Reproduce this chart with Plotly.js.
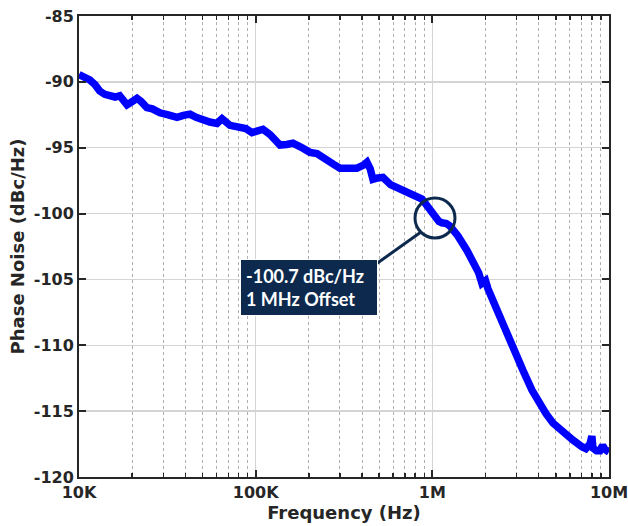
<!DOCTYPE html>
<html>
<head>
<meta charset="utf-8">
<script src="https://cdn.plot.ly/plotly-3.0.1.min.js"></script>
<style>html,body{margin:0;padding:0;background:#fff;}#chart{width:628px;height:526px;}</style>
</head>
<body>
<div id="chart"></div>
<script>
// Offset frequency (Hz)
const freqHz = [
  10000, 10800, 11500, 12300, 13100, 14000, 15000, 16000, 17000, 18000,
  18700, 19500, 21300, 22500, 24200, 26000, 28700, 32000, 35900, 39000,
  42500, 46000, 50300, 55000, 60400, 64500, 71500, 81500, 88000, 95300,
  103000, 110000, 120500, 128000, 137300, 150000, 162600, 180000, 202900, 222300,
  240000, 253200, 275000, 300000, 335000, 374400, 410000, 426500, 445000, 461200,
  490000, 525400, 580000, 630500, 718100, 800000, 873400, 920000, 969200, 1034000,
  1090000, 1133000, 1200000, 1258000, 1396000, 1570000, 1742000, 1830000, 1909000, 2000000,
  2064000, 2203000, 2351000, 2644000, 2935000, 3256000, 3662000, 4064000, 4400000, 4815000,
  5484000, 6247000, 7025000, 7400000, 7800000, 8000000, 8110000, 8500000, 8882000, 9200000,
  9480000, 10000000
];
// Phase noise (dBc/Hz)
const phaseNoise = [
  -89.45, -89.6, -89.85, -90.2, -90.7, -90.95, -91.1, -91.15, -91.05, -91.4,
  -91.75, -91.6, -91.25, -91.5, -91.95, -92.05, -92.35, -92.5, -92.7, -92.55,
  -92.45, -92.7, -92.95, -93.05, -93.15, -92.8, -93.3, -93.45, -93.55, -93.85,
  -93.75, -93.6, -94.0, -94.3, -94.8, -94.75, -94.65, -94.95, -95.35, -95.45,
  -95.8, -95.95, -96.25, -96.55, -96.6, -96.55, -96.3, -96.1, -96.6, -97.4,
  -97.3, -97.25, -97.8, -98.05, -98.3, -98.75, -98.9, -99.3, -99.75, -100.3,
  -100.6, -100.7, -100.75, -100.95, -101.7, -102.8, -103.8, -104.5, -105.3, -105.1,
  -105.7, -106.6, -107.7, -109.1, -110.4, -111.9, -113.4, -114.6, -115.2, -115.9,
  -116.6, -117.2, -117.7, -117.85, -117.5, -116.9, -117.8, -118.0, -118.0, -117.6,
  -117.9, -118.1
];

const xTickVals = [1e4, 1e5, 1e6, 1e7];
const xTickText = ["10K", "100K", "1M", "10M"];
const yTickVals = [-120, -115, -110, -105, -100, -95, -90, -85];
const yTickText = ["-120", "-115", "-110", "-105", "-100", "-95", "-90", "-85"];
const minorMultipliers = [2, 3, 4, 5, 6, 7, 8, 9];
const decades = [1e4, 1e5, 1e6];

const annotationLines = ["-100.7 dBc/Hz", "1 MHz Offset"];

const minorVals = [];
decades.forEach(d => minorMultipliers.forEach(m => minorVals.push(d * m)));

const bold = s => "<b>" + s + "</b>";

const tickFont = {family: "DejaVu Sans", size: 16, color: "#262626"};
const titleFont = {family: "DejaVu Sans", size: 18, color: "#262626"};

const trace = {
  x: freqHz,
  y: phaseNoise,
  type: "scatter",
  mode: "lines",
  line: {color: "#0000ff", width: 7.5, shape: "linear"},
  hoverinfo: "skip"
};

const navy = "#0d2a4e";

const layout = {
  width: 628,
  height: 526,
  margin: {l: 79, r: 19, t: 16, b: 49},
  paper_bgcolor: "#ffffff",
  plot_bgcolor: "#ffffff",
  showlegend: false,
  xaxis: {
    type: "log",
    range: [4, 7],
    tickmode: "array",
    tickvals: xTickVals,
    ticktext: xTickText.map(bold),
    ticks: "inside",
    ticklen: 7,
    tickwidth: 2,
    tickcolor: "#262626",
    showline: true,
    linecolor: "#262626",
    linewidth: 2,
    mirror: "allticks",
    showgrid: true,
    gridcolor: "#d4d4d4",
    gridwidth: 1.5,
    zeroline: false,
    tickfont: tickFont,
    ticklabelstandoff: 0,
    ticklabeloverflow: "allow",
    title: {text: bold("Frequency (Hz)"), font: titleFont, standoff: 2},
    minor: {
      tickmode: "array",
      tickvals: minorVals,
      ticks: "inside",
      ticklen: 4,
      tickwidth: 1.5,
      tickcolor: "#262626",
      showgrid: true,
      gridcolor: "#b0b0b0",
      gridwidth: 1,
      griddash: "dot"
    }
  },
  yaxis: {
    range: [-120, -85],
    tickmode: "array",
    tickvals: yTickVals,
    ticktext: yTickText.map(bold),
    ticks: "inside",
    ticklen: 7,
    tickwidth: 2,
    tickcolor: "#262626",
    showline: true,
    linecolor: "#262626",
    linewidth: 2,
    mirror: "allticks",
    showgrid: true,
    gridcolor: "#d4d4d4",
    gridwidth: 1.5,
    zeroline: false,
    tickfont: tickFont,
    ticklabeloverflow: "allow",
    title: {text: bold("Phase Noise (dBc/Hz)"), font: titleFont, standoff: 4}
  },
  shapes: [
    {
      type: "line", xref: "paper", yref: "paper",
      x0: 0.6453, y0: 0.5315, x1: 0.552, y1: 0.455,
      line: {color: navy, width: 3}
    },
    {
      type: "circle", xref: "paper", yref: "paper",
      x0: 0.634, x1: 0.7094, y0: 0.5184, y1: 0.6052,
      line: {color: navy, width: 3}
    }
  ],
  annotations: [
    {
      xref: "paper", yref: "paper",
      x: 0.4349, y: 0.41,
      xanchor: "center", yanchor: "middle",
      text: annotationLines.join("<br>"),
      showarrow: false,
      align: "left",
      font: {family: "Lato", size: 18, color: "#ffffff", weight: "bold"},
      bgcolor: navy,
      bordercolor: "#ffffff",
      borderwidth: 1,
      borderpad: 5,
      width: 126
    }
  ]
};

Plotly.newPlot("chart", [trace], layout, {displayModeBar: false, staticPlot: true});
</script>
</body>
</html>
